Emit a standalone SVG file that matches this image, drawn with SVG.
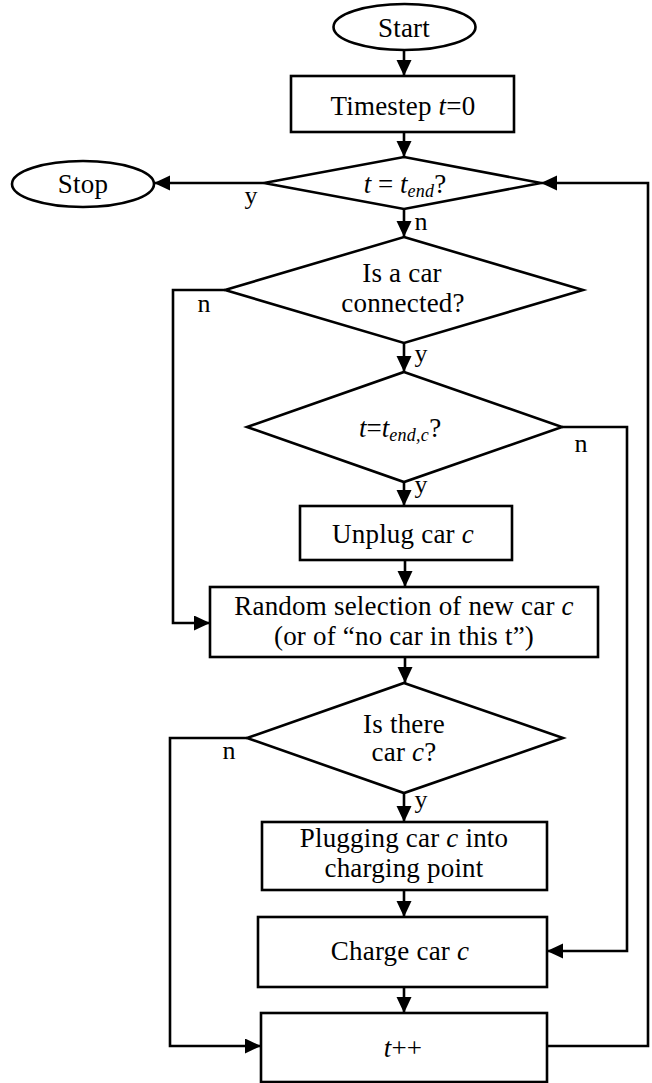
<svg xmlns="http://www.w3.org/2000/svg" width="652" height="1083" viewBox="0 0 652 1083">
<style>
  .shape { fill: #ffffff; stroke: #000000; stroke-width: 2.6; }
  .line { fill: none; stroke: #000000; stroke-width: 2.6; }
  text { font-family: "Liberation Serif", "Times New Roman", serif; font-size: 27px; letter-spacing: 0.2px; fill: #000000; text-anchor: middle; }
  .it { font-style: italic; }
  .sub { font-style: italic; font-size: 18px; letter-spacing: 0.3px; }
  .lbl { font-size: 26px; letter-spacing: 0; }
</style>
<defs>
  <marker id="arrow" markerUnits="userSpaceOnUse" markerWidth="17" markerHeight="16" refX="16" refY="7.5" orient="auto">
    <path d="M0,0 L16,7.5 L0,15 z" fill="#000000"/>
  </marker>
</defs>
<rect width="652" height="1083" fill="#ffffff"/>

<g id="connectors">
  <path class="line" d="M404,50 L404,76" marker-end="url(#arrow)"/>
  <path class="line" d="M404,132 L404,157" marker-end="url(#arrow)"/>
  <path class="line" d="M264,183 L154,183" marker-end="url(#arrow)"/>
  <path class="line" d="M404,209 L404,237" marker-end="url(#arrow)"/>
  <path class="line" d="M225,290 L173,290 L173,623 L210,623" marker-end="url(#arrow)"/>
  <path class="line" d="M404,343 L404,372" marker-end="url(#arrow)"/>
  <path class="line" d="M562,427 L627,427 L627,951 L547,951" marker-end="url(#arrow)"/>
  <path class="line" d="M404,482 L404,506" marker-end="url(#arrow)"/>
  <path class="line" d="M405,560 L405,587" marker-end="url(#arrow)"/>
  <path class="line" d="M405,657 L405,683" marker-end="url(#arrow)"/>
  <path class="line" d="M247,738 L170,738 L170,1046 L261,1046" marker-end="url(#arrow)"/>
  <path class="line" d="M404,793 L404,822" marker-end="url(#arrow)"/>
  <path class="line" d="M404,890 L404,917" marker-end="url(#arrow)"/>
  <path class="line" d="M404,987 L404,1013" marker-end="url(#arrow)"/>
  <path class="line" d="M547,1046 L648,1046 L648,183 L541,183" marker-end="url(#arrow)"/>
  <text class="lbl" x="251" y="204">y</text>
  <text class="lbl" x="421" y="230">n</text>
  <text class="lbl" x="204" y="312">n</text>
  <text class="lbl" x="421" y="362">y</text>
  <text class="lbl" x="581" y="452">n</text>
  <text class="lbl" x="421" y="493">y</text>
  <text class="lbl" x="229" y="759">n</text>
  <text class="lbl" x="421" y="808">y</text>
</g>

<g id="start">
  <ellipse class="shape" cx="404.5" cy="27" rx="71" ry="23"/>
  <text x="404" y="37">Start</text>
</g>

<g id="stop">
  <ellipse class="shape" cx="83" cy="184" rx="71" ry="23"/>
  <text x="83" y="193">Stop</text>
</g>

<g id="timestep">
  <rect class="shape" x="291" y="76" width="223" height="56"/>
  <text x="403" y="115">Timestep <tspan class="it">t</tspan>=0</text>
</g>

<g id="check-end">
  <polygon class="shape" points="404,157 541,183 404,209 264,183"/>
  <text x="405" y="193" style="letter-spacing:0"><tspan class="it">t</tspan> = <tspan class="it">t</tspan><tspan class="sub" dy="4">end</tspan><tspan dy="-4">?</tspan></text>
</g>

<g id="car-connected">
  <polygon class="shape" points="404,237 583,290 404,343 225,290"/>
  <text x="402" y="282">Is a car</text>
  <text x="403" y="312">connected?</text>
</g>

<g id="check-end-c">
  <polygon class="shape" points="404,372 562,427 404,482 247,427"/>
  <text x="400" y="437" style="letter-spacing:0"><tspan class="it">t</tspan>=<tspan class="it">t</tspan><tspan class="sub" dy="4">end,c</tspan><tspan dy="-4">?</tspan></text>
</g>

<g id="unplug">
  <rect class="shape" x="300" y="506" width="212" height="54"/>
  <text x="403" y="543">Unplug car <tspan class="it">c</tspan></text>
</g>

<g id="random-selection">
  <rect class="shape" x="210" y="587" width="388" height="70"/>
  <text x="404" y="615">Random selection of new car <tspan class="it">c</tspan></text>
  <text x="404" y="645">(or of “no car in this t”)</text>
</g>

<g id="is-there-car">
  <polygon class="shape" points="404,683 563,738 404,793 247,738"/>
  <text x="404" y="733">Is there</text>
  <text x="404" y="761">car <tspan class="it">c</tspan>?</text>
</g>

<g id="plugging">
  <rect class="shape" x="262" y="822" width="285" height="68"/>
  <text x="404" y="847">Plugging car <tspan class="it">c</tspan> into</text>
  <text x="404" y="877">charging point</text>
</g>

<g id="charge">
  <rect class="shape" x="258" y="917" width="289" height="70"/>
  <text x="400" y="960">Charge car <tspan class="it">c</tspan></text>
</g>

<g id="increment">
  <rect class="shape" x="261" y="1013" width="286" height="69"/>
  <text x="403" y="1057"><tspan class="it">t</tspan>++</text>
</g>
</svg>
